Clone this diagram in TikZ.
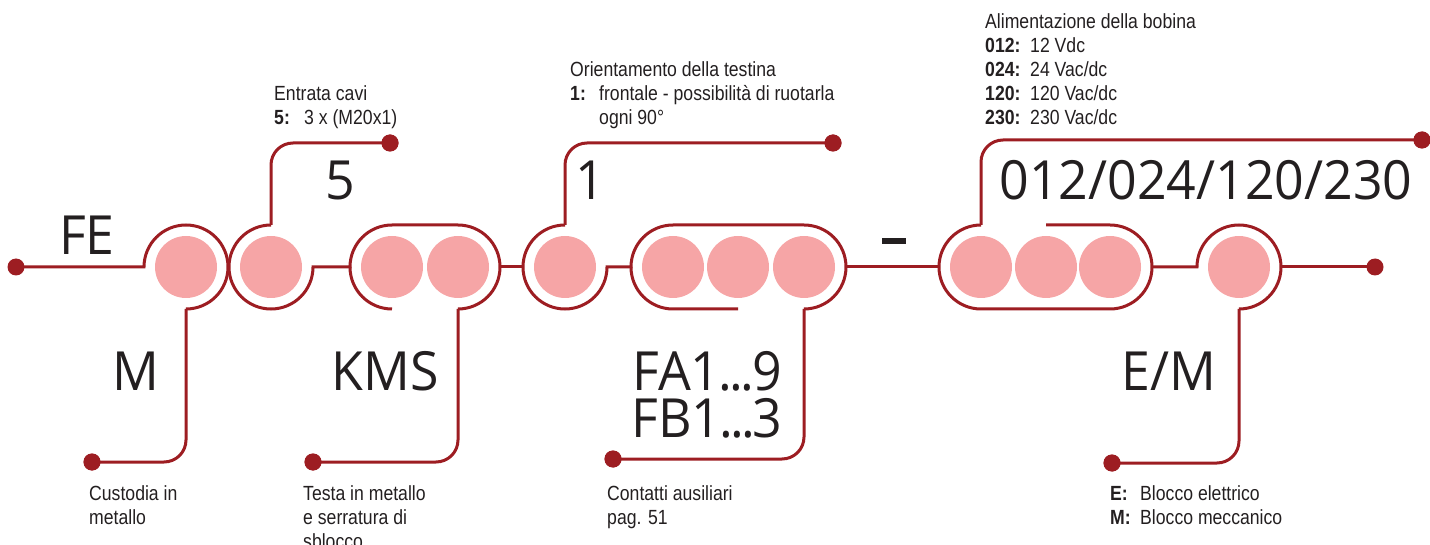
\documentclass[tikz,border=0pt]{standalone}
\usepackage{fontspec}
\newfontfamily\bigfont[FakeStretch=0.96]{Open Sans}
\newfontfamily\smallfont[FakeStretch=0.86]{Liberation Sans}
\definecolor{dred}{HTML}{9D1D22}
\definecolor{pinkc}{HTML}{F6A5A6}
\definecolor{ink}{HTML}{231F20}
\newcommand{\dk}{\kern-2.5pt}
\begin{document}
\begin{tikzpicture}[x=1pt,y=-1pt,
 outline/.style={draw=dred, line width=3pt},
 conn/.style={draw=dred, line width=3pt, rounded corners=22pt},
 dotn/.style={circle, fill=dred, minimum size=17pt, inner sep=0pt},
 pinkdot/.style={circle, fill=pinkc, minimum size=62pt, inner sep=0pt},
 biglab/.style={font=\bigfont\fontsize{54}{60}\selectfont, text=ink, inner sep=0pt, anchor=base},
 smalllab/.style={font=\smallfont\fontsize{20.5}{24}\selectfont, text=ink, inner sep=0pt, anchor=base west},
 boldlab/.style={smalllab, font=\smallfont\bfseries\fontsize{20.5}{24}\selectfont}]
\useasboundingbox (0,0) rectangle (1430,545);

% pink circles
\foreach \n/\x in {c1/186, c2/271, c3a/392, c3b/458, c4/565, c5a/673, c5b/738, c5c/804, c6a/981, c6b/1046, c6c/1110, c7/1239}
  \node[pinkdot] (\n) at (\x,267) {};

% capsule tops / bottoms
\coordinate (b1) at (186,309);
\coordinate (t2) at (271,225);
\coordinate (b3) at (458,309);
\coordinate (t4) at (565,225);
\coordinate (b5) at (804,309);
\coordinate (t6) at (981,225);
\coordinate (b7) at (1239,309);

% outlines and main line
\draw[outline] (16,267) -- (144,267) arc[start angle=180, end angle=450, radius=42];
\draw[outline] (t2) arc[start angle=270, end angle=0, radius=42] -- (350,267)
   arc[start angle=180, end angle=270, radius=42] -- (458,225)
   arc[start angle=270, end angle=450, radius=42];
\draw[outline] (350,267) arc[start angle=180, end angle=90, radius=42];
\draw[outline] (500,267) -- (523,267);
\draw[outline] (t4) arc[start angle=270, end angle=0, radius=42] -- (631,267)
   arc[start angle=180, end angle=270, radius=42] -- (804,225)
   arc[start angle=270, end angle=450, radius=42];
\draw[outline] (631,267) arc[start angle=180, end angle=90, radius=42] -- (738,309);
\draw[outline] (846,267) -- (939,267);
\draw[outline] (1046,225) -- (1110,225) arc[start angle=270, end angle=450, radius=42]
   -- (981,309) arc[start angle=90, end angle=270, radius=42];
\draw[outline] (1152,267) -- (1197,267) arc[start angle=180, end angle=450, radius=42];
\draw[outline] (1281,267) -- (1375,267);

% dots
\node[dotn] (dL) at (16,267) {};
\node[dotn] (dR) at (1375,267) {};
\node[dotn] (d5) at (390,143) {};
\node[dotn] (d1) at (833,143) {};
\node[dotn] (d012) at (1422,140) {};
\node[dotn] (dM) at (92,462) {};
\node[dotn] (dKMS) at (313,462) {};
\node[dotn] (dFA) at (613,459) {};
\node[dotn] (dEM) at (1112,463) {};

% connectors
\draw[conn] (t2) |- (d5.center);
\draw[conn] (t4) |- (d1.center);
\draw[conn] (t6) |- (d012.center);
\draw[conn] (b1) |- (dM.center);
\draw[conn] (b3) |- (dKMS.center);
\draw[conn] (b5) |- (dFA.center);
\draw[conn] (b7) |- (dEM.center);
\node[dotn] at (d5) {};
\node[dotn] at (d1) {};
\node[dotn] at (d012) {};
\node[dotn] at (dM) {};
\node[dotn] at (dKMS) {};
\node[dotn] at (dFA) {};
\node[dotn] at (dEM) {};

% dash
\node[fill=ink, minimum width=24pt, minimum height=6pt, inner sep=0pt] (dash) at (894,241) {};

% big labels
\node[biglab] (lFE) at (87,255) {FE};
\node[biglab] (l5) at (340,200) {5};
\node[biglab] (l1) at (590,200) {1};
\node[biglab] (l012) at (1206,200) {012/024/120/230};
\node[biglab] (lM) at (136,390) {M};
\node[biglab] (lKMS) at (385,390) {KMS};
\node[biglab, text height=39pt, text depth=0pt] (lFA) at (707,390) {FA1\dk.\dk.\dk.\dk9};
\node[biglab, text height=39pt, text depth=0pt] (lFB) at (707,437) {FB1\dk.\dk.\dk.\dk3};
\node[biglab] (lEM) at (1169,390) {E/M};

% small texts top
\node[smalllab] (e1) at (274,101) {Entrata cavi};
\node[boldlab] (e2) at (274,125) {5:};
\node[smalllab] (e3) at (304,125) {3 x (M20x1)};

\node[smalllab] (o1) at (570,77) {Orientamento della testina};
\node[boldlab] (o2) at (570,101) {1:};
\node[smalllab] (o3) at (599,101) {frontale - possibilità di ruotarla};
\node[smalllab] (o4) at (599,125) {ogni 90°};

\node[smalllab] (a1) at (985,29) {Alimentazione della bobina};
\node[boldlab] (a2) at (985,53) {012:};
\node[smalllab] (a3) at (1030,53) {12 Vdc};
\node[boldlab] (a4) at (985,77) {024:};
\node[smalllab] (a5) at (1030,77) {24 Vac/dc};
\node[boldlab] (a6) at (985,101) {120:};
\node[smalllab] (a7) at (1030,101) {120 Vac/dc};
\node[boldlab] (a8) at (985,125) {230:};
\node[smalllab] (a9) at (1030,125) {230 Vac/dc};

% small texts bottom
\node[smalllab] (m1) at (89,500) {Custodia in};
\node[smalllab] (m2) at (89,524) {metallo};
\node[smalllab] (k1) at (303,500) {Testa in metallo};
\node[smalllab] (k2) at (303,524) {e serratura di};
\node[smalllab] (k3) at (303,548) {sblocco};
\node[smalllab] (f1) at (607,500) {Contatti ausiliari};
\node[smalllab] (f2) at (607,524) {pag. 51};
\node[boldlab] (x1) at (1110,500) {E:};
\node[smalllab] (x2) at (1140,500) {Blocco elettrico};
\node[boldlab] (x3) at (1110,524) {M:};
\node[smalllab] (x4) at (1140,524) {Blocco meccanico};
\end{tikzpicture}
\end{document}
